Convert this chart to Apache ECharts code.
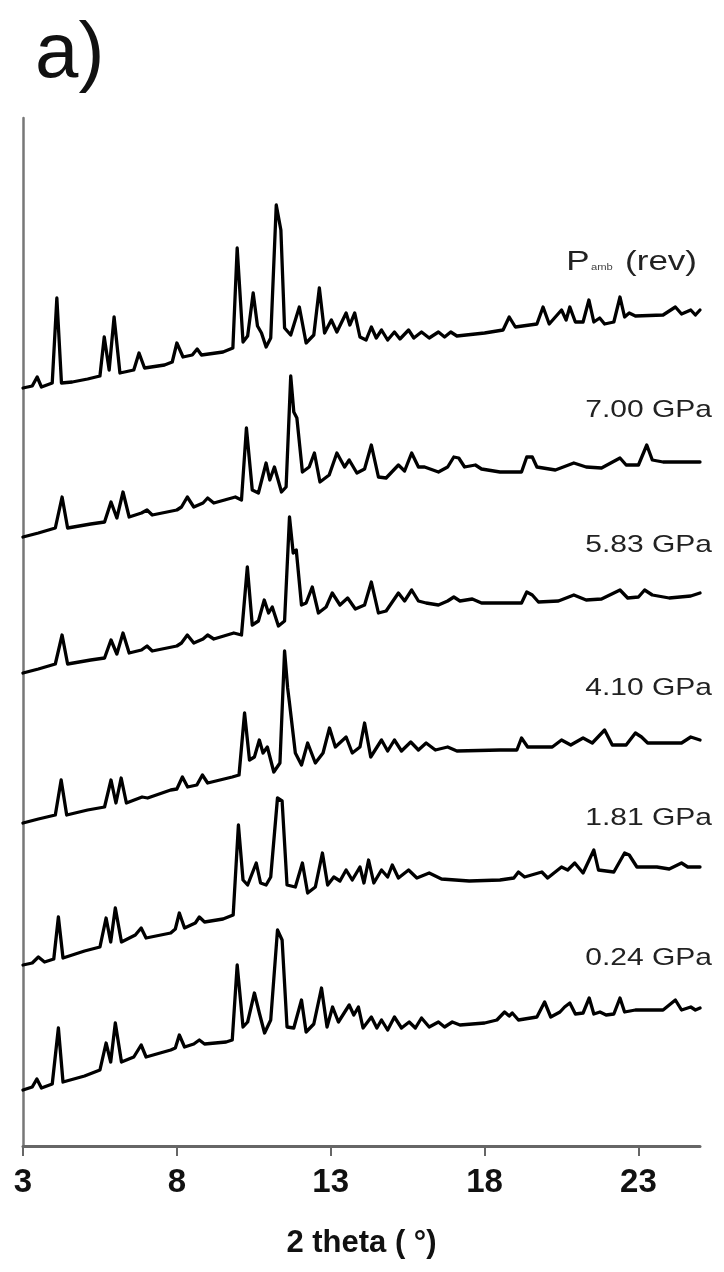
<!DOCTYPE html>
<html>
<head>
<meta charset="utf-8">
<script src="https://cdn.jsdelivr.net/npm/echarts@6/dist/echarts.min.js"></script>
<style>
html, body { margin: 0; padding: 0; background: #fff; }
#chart { width: 724px; height: 1272px; }
</style>
</head>
<body>
<div id="chart"></div>
<script>
// x axis ticks (2 theta, degrees)
const xTicks = [3, 8, 13, 18, 23];

// one label per pattern, top to bottom
const pressureLabels = ['{p|P}{s|amb}{p| (rev)}', '7.00 GPa', '5.83 GPa', '4.10 GPa', '1.81 GPa', '0.24 GPa'];

// vertical stacking offset of each pattern (arbitrary units)
const offsets = [758, 609, 473, 323, 181, 56];

// [2theta, intensity], intensity relative to the pattern's own start
const patAmbRev = [
    [3.0, 0], [3.3, 2], [3.46, 11], [3.6, 1], [3.95, 5], [4.1, 90], [4.25, 5], [4.6, 6], [5.1, 9], [5.5, 12],
    [5.64, 51], [5.8, 18], [5.96, 71], [6.15, 15], [6.6, 18], [6.77, 35], [6.95, 20], [7.6, 23], [7.85, 26], [8.0, 45],
    [8.2, 31], [8.5, 33], [8.66, 39], [8.8, 33], [9.5, 36], [9.82, 40], [9.96, 140], [10.15, 46], [10.3, 52], [10.48, 95],
    [10.62, 62], [10.75, 55], [10.9, 41], [11.05, 50], [11.23, 183], [11.38, 158], [11.5, 60], [11.7, 53], [11.98, 81], [12.2, 45],
    [12.45, 53], [12.63, 100], [12.8, 55], [13.02, 68], [13.2, 56], [13.5, 75], [13.62, 63], [13.78, 75], [13.95, 51], [14.15, 48],
    [14.32, 61], [14.48, 50], [14.65, 58], [14.85, 48], [15.07, 56], [15.25, 49], [15.53, 58], [15.7, 50], [15.95, 56], [16.2, 50],
    [16.5, 56], [16.7, 51], [16.9, 56], [17.1, 52], [18.0, 55], [18.6, 58], [18.8, 71], [19.0, 61], [19.7, 64], [19.9, 81],
    [20.1, 64], [20.5, 78], [20.65, 68], [20.77, 81], [20.95, 66], [21.2, 66], [21.39, 88], [21.55, 66], [21.74, 70], [21.9, 64],
    [22.2, 66], [22.4, 91], [22.55, 71], [22.7, 75], [22.9, 72], [23.8, 73], [24.2, 81], [24.4, 74], [24.7, 78], [24.85, 73], [25.0, 78]
];

const pat700 = [
    [3.0, 0], [3.5, 4], [4.05, 9], [4.27, 40], [4.45, 9], [5.2, 13], [5.65, 15], [5.86, 35], [6.05, 19], [6.25, 45],
    [6.45, 20], [6.85, 24], [7.03, 27], [7.2, 22], [8.0, 27], [8.15, 30], [8.34, 40], [8.55, 30], [8.85, 34], [9.0, 39],
    [9.2, 34], [9.9, 40], [10.1, 37], [10.26, 109], [10.45, 47], [10.65, 44], [10.9, 74], [11.02, 57], [11.17, 70], [11.4, 45],
    [11.55, 50], [11.7, 161], [11.8, 125], [11.9, 119], [12.08, 65], [12.3, 70], [12.47, 84], [12.65, 55], [12.95, 62], [13.2, 84],
    [13.45, 70], [13.6, 77], [13.85, 64], [14.1, 68], [14.32, 92], [14.55, 60], [14.8, 59], [15.2, 72], [15.4, 66], [15.63, 84],
    [15.85, 70], [16.05, 70], [16.5, 65], [16.8, 70], [17.0, 80], [17.16, 79], [17.35, 70], [17.7, 72], [17.9, 68], [18.5, 65],
    [19.2, 65], [19.37, 80], [19.55, 80], [19.7, 70], [20.3, 67], [20.9, 74], [21.3, 70], [21.8, 69], [22.4, 79], [22.6, 72],
    [23.0, 72], [23.27, 92], [23.45, 77], [23.8, 75], [25.0, 75]
];

const pat583 = [
    [3.0, 0], [3.5, 4], [4.05, 9], [4.27, 38], [4.45, 9], [5.2, 13], [5.65, 15], [5.86, 33], [6.05, 19], [6.25, 40],
    [6.45, 20], [6.85, 23], [7.03, 27], [7.2, 22], [8.0, 27], [8.15, 30], [8.34, 38], [8.55, 30], [8.85, 34], [9.0, 38],
    [9.2, 34], [9.85, 40], [10.1, 38], [10.29, 106], [10.45, 48], [10.65, 52], [10.84, 73], [10.98, 60], [11.1, 66], [11.3, 47],
    [11.5, 52], [11.66, 156], [11.78, 120], [11.88, 123], [12.05, 68], [12.2, 70], [12.4, 86], [12.6, 60], [12.85, 66], [13.05, 80],
    [13.3, 68], [13.55, 75], [13.8, 64], [14.1, 68], [14.32, 91], [14.55, 60], [14.8, 62], [15.2, 80], [15.4, 72], [15.63, 83],
    [15.85, 72], [16.1, 70], [16.5, 68], [16.8, 72], [17.0, 76], [17.2, 72], [17.6, 74], [17.9, 70], [18.5, 70], [19.2, 70],
    [19.37, 81], [19.55, 78], [19.75, 71], [20.4, 72], [20.9, 78], [21.3, 73], [21.8, 74], [22.4, 83], [22.65, 75], [23.0, 76],
    [23.2, 83], [23.45, 78], [24.0, 75], [24.7, 77], [25.0, 80]
];

const pat410 = [
    [3.0, 0], [3.5, 4], [4.05, 8], [4.24, 43], [4.42, 8], [5.1, 13], [5.65, 16], [5.86, 43], [6.02, 20], [6.19, 45],
    [6.36, 20], [6.7, 24], [6.87, 26], [7.05, 25], [7.8, 33], [8.0, 34], [8.18, 46], [8.35, 36], [8.65, 38], [8.83, 48],
    [9.0, 40], [9.8, 46], [10.02, 48], [10.2, 110], [10.36, 63], [10.52, 66], [10.68, 83], [10.8, 70], [10.94, 76], [11.15, 51],
    [11.35, 60], [11.5, 172], [11.6, 135], [11.66, 120], [11.85, 70], [12.05, 58], [12.25, 80], [12.5, 60], [12.75, 70], [12.96, 95],
    [13.15, 76], [13.5, 86], [13.7, 70], [13.95, 76], [14.1, 100], [14.3, 66], [14.65, 83], [14.85, 72], [15.07, 83], [15.3, 72],
    [15.6, 81], [15.85, 73], [16.1, 80], [16.4, 73], [16.8, 76], [17.1, 72], [18.5, 73], [19.05, 73], [19.2, 85], [19.4, 76],
    [20.2, 76], [20.5, 83], [20.8, 78], [21.2, 85], [21.5, 80], [21.9, 93], [22.15, 78], [22.6, 78], [22.9, 90], [23.1, 86],
    [23.3, 80], [24.4, 80], [24.7, 86], [25.0, 83]
];

const pat181 = [
    [3.0, 0], [3.3, 2], [3.5, 8], [3.7, 3], [4.0, 6], [4.15, 48], [4.3, 7], [5.0, 14], [5.5, 18], [5.7, 47],
    [5.85, 23], [6.0, 57], [6.2, 23], [6.65, 30], [6.84, 37], [7.0, 27], [7.8, 32], [7.95, 36], [8.08, 52], [8.25, 37],
    [8.6, 42], [8.73, 48], [8.9, 43], [9.5, 46], [9.83, 50], [10.0, 140], [10.15, 85], [10.3, 80], [10.58, 102], [10.72, 82],
    [10.9, 80], [11.05, 88], [11.27, 167], [11.42, 164], [11.58, 80], [11.85, 78], [12.08, 102], [12.25, 72], [12.5, 78], [12.73, 112],
    [12.9, 80], [13.1, 88], [13.3, 84], [13.5, 95], [13.7, 85], [13.95, 98], [14.08, 82], [14.23, 105], [14.4, 82], [14.65, 95],
    [14.85, 88], [15.0, 100], [15.2, 87], [15.53, 95], [15.8, 87], [16.2, 92], [16.6, 86], [17.5, 84], [18.5, 85], [18.95, 87],
    [19.1, 93], [19.3, 88], [19.86, 93], [20.05, 87], [20.5, 98], [20.7, 95], [20.93, 102], [21.2, 92], [21.55, 115], [21.7, 95],
    [22.2, 93], [22.55, 112], [22.7, 110], [22.95, 98], [23.6, 98], [24.0, 96], [24.4, 102], [24.6, 98], [25.0, 98]
];

const pat024 = [
    [3.0, 0], [3.3, 3], [3.45, 11], [3.6, 2], [3.95, 6], [4.15, 62], [4.3, 8], [5.0, 14], [5.5, 20], [5.7, 47],
    [5.85, 28], [6.0, 67], [6.2, 28], [6.6, 33], [6.84, 45], [7.0, 33], [7.8, 40], [7.95, 42], [8.08, 55], [8.25, 43],
    [8.55, 46], [8.73, 50], [8.9, 46], [9.6, 48], [9.8, 50], [9.96, 125], [10.15, 63], [10.3, 68], [10.52, 97], [10.68, 77],
    [10.85, 57], [11.05, 70], [11.27, 160], [11.42, 150], [11.58, 63], [11.8, 62], [12.05, 90], [12.2, 58], [12.45, 66], [12.7, 102],
    [12.88, 63], [13.06, 83], [13.25, 68], [13.6, 85], [13.75, 75], [13.9, 83], [14.05, 62], [14.32, 73], [14.5, 62], [14.65, 70],
    [14.85, 60], [15.07, 73], [15.3, 62], [15.55, 68], [15.75, 62], [15.95, 72], [16.2, 63], [16.5, 68], [16.7, 63], [16.95, 68],
    [17.2, 65], [18.0, 67], [18.4, 70], [18.65, 78], [18.8, 74], [18.9, 77], [19.1, 70], [19.7, 73], [19.95, 88], [20.15, 73],
    [20.45, 78], [20.6, 83], [20.77, 87], [20.95, 76], [21.2, 77], [21.4, 92], [21.55, 76], [21.75, 78], [21.95, 75], [22.2, 76],
    [22.4, 92], [22.55, 78], [22.9, 80], [23.8, 80], [24.2, 90], [24.4, 80], [24.7, 83], [24.85, 80], [25.0, 82]
];

const patterns = [patAmbRev, pat700, pat583, pat410, pat181, pat024];

const chart = echarts.init(document.getElementById('chart'));

const FONT = '"Liberation Sans", Arial, sans-serif';

// label placement (pixels, right aligned)
const labelRight = 712;
const labelY = [262, 410, 545, 688, 818, 958];

const labelGraphics = pressureLabels.map((txt, i) => ({
    type: 'text',
    x: i === 0 ? 697 : labelRight,
    y: labelY[i],
    scaleX: 1.25,
    style: {
        text: txt,
        fill: '#222',
        fontSize: i === 0 ? 28 : 24,
        fontFamily: FONT,
        align: 'right',
        verticalAlign: 'middle',
        textAlign: 'right',
        textVerticalAlign: 'middle',
        rich: {
            p: { fontSize: 28, fontFamily: FONT, fill: '#222' },
            s: { fontSize: 9, fontFamily: FONT, fill: '#444', verticalAlign: 'bottom', padding: [0, 2, 4, 1] }
        }
    }
}));

const option = {
    animation: false,
    backgroundColor: '#fff',
    grid: {
        left: 23,
        right: 24,
        top: 118,
        bottom: 126,
        containLabel: false
    },
    xAxis: {
        type: 'value',
        min: 3,
        max: 25,
        name: '2 theta ( °)',
        nameLocation: 'middle',
        nameGap: 82,
        nameTextStyle: {
            fontSize: 31,
            fontWeight: 'bold',
            color: '#111',
            fontFamily: FONT
        },
        axisLine: {
            show: true,
            lineStyle: { color: '#666', width: 3 }
        },
        axisTick: {
            show: true,
            customValues: xTicks,
            length: 10,
            lineStyle: { color: '#666', width: 2 }
        },
        axisLabel: {
            customValues: xTicks,
            fontSize: 33,
            fontWeight: 'bold',
            color: '#111',
            fontFamily: FONT,
            margin: 20
        },
        splitLine: { show: false }
    },
    yAxis: {
        type: 'value',
        min: 0,
        max: 1028,
        axisLine: {
            show: true,
            lineStyle: { color: '#777', width: 2.5 }
        },
        axisTick: { show: false },
        axisLabel: { show: false },
        splitLine: { show: false }
    },
    series: patterns.map((pts, i) => ({
        type: 'line',
        data: pts.map(p => [p[0], p[1] + offsets[i]]),
        showSymbol: false,
        smooth: false,
        lineStyle: { color: '#000', width: 3.3, join: 'round', cap: 'round' }
    })),
    graphic: [
        {
            type: 'text',
            x: 35,
            y: 55,
            style: {
                text: 'a)',
                fill: '#111',
                fontSize: 78,
                fontFamily: FONT,
                align: 'left',
                verticalAlign: 'middle',
                textAlign: 'left',
                textVerticalAlign: 'middle'
            }
        }
    ].concat(labelGraphics)
};

chart.setOption(option);
</script>
</body>
</html>
